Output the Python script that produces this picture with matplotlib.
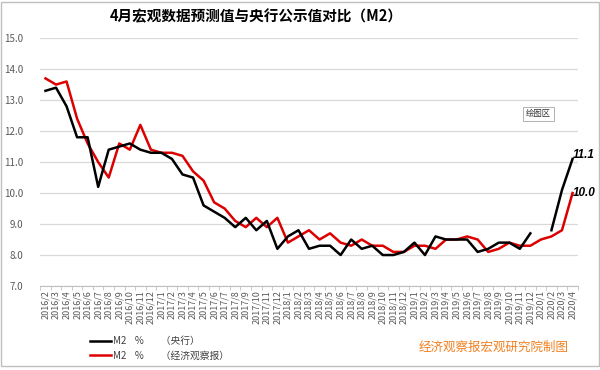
import numpy as np
import matplotlib
matplotlib.use("Agg")
import matplotlib.pyplot as plt
from matplotlib.lines import Line2D
from matplotlib.patches import Rectangle

plt.rcParams['font.family'] = ['Noto Sans CJK SC', 'DejaVu Sans']

months = (["2016/%d" % m for m in range(2, 13)]
          + ["2017/%d" % m for m in range(1, 13)]
          + ["2018/%d" % m for m in range(1, 13)]
          + ["2019/%d" % m for m in range(1, 13)]
          + ["2020/%d" % m for m in range(1, 5)])

# M2 growth, % (central bank published)
m2_pboc = [13.3, 13.4, 12.8, 11.8, 11.8, 10.2, 11.4, 11.5, 11.6, 11.4, 11.3,
           11.3, 11.1, 10.6, 10.5, 9.6, 9.4, 9.2, 8.9, 9.2, 8.8, 9.1, 8.2,
           8.6, 8.8, 8.2, 8.3, 8.3, 8.0, 8.5, 8.2, 8.3, 8.0, 8.0, 8.1,
           8.4, 8.0, 8.6, 8.5, 8.5, 8.5, 8.1, 8.2, 8.4, 8.4, 8.2, 8.7,
           np.nan, 8.8, 10.1, 11.1]

# M2 growth, % (Economic Observer forecast)
m2_eeo = [13.7, 13.5, 13.6, 12.4, 11.6, 11.0, 10.5, 11.6, 11.4, 12.2, 11.4,
          11.3, 11.3, 11.2, 10.7, 10.4, 9.7, 9.5, 9.1, 8.9, 9.2, 8.9, 9.2,
          8.4, 8.6, 8.8, 8.5, 8.7, 8.4, 8.3, 8.5, 8.3, 8.3, 8.1, 8.1,
          8.3, 8.3, 8.2, 8.5, 8.5, 8.6, 8.5, 8.1, 8.2, 8.4, 8.3, 8.3,
          8.5, 8.6, 8.8, 10.0]

labels = ["M2    %        （央行）", "M2    %        （经济观察报）"]
colors = ["black", "#DD0000"]

fig = plt.figure(figsize=(6, 3.7), dpi=100)
ax = fig.add_axes([0.067, 0.227, 0.896, 0.67])

x = np.arange(len(months))
ax.plot(x, m2_pboc, color=colors[0], lw=1.8, zorder=3)
ax.plot(x, m2_eeo, color=colors[1], lw=1.8, zorder=2)

ax.set_xlim(-0.5, len(months) - 0.5)
ax.set_ylim(7, 15)
ax.set_yticks(np.arange(7, 15.1, 1))
ax.set_yticklabels(["%.1f" % v for v in np.arange(7, 15.1, 1)])
ax.grid(axis='y', color='#D9D9D9', lw=0.9)
ax.set_axisbelow(True)
for s in ['top', 'right', 'left']:
    ax.spines[s].set_visible(False)
ax.spines['bottom'].set_color('#BFBFBF')

ax.set_xticks(x)
ax.set_xticklabels(months, rotation=90, fontsize=6.5, color='#595959')
ax.tick_params(axis='x', length=0, pad=3)
ax.set_xticks(np.arange(-0.5, len(months), 1), minor=True)
ax.tick_params(axis='x', which='minor', length=3, color='#BFBFBF')
ax.tick_params(axis='y', length=0, labelsize=7, labelcolor='#595959', pad=12)

ax.text(x[-1] + 0.05, m2_pboc[-1] + 0.12, "11.1", fontsize=8.5, fontweight='bold',
        fontstyle='italic', family='Liberation Sans', va='center', ha='left')
ax.text(x[-1] + 0.05, m2_eeo[-1], "10.0", fontsize=8.5, fontweight='bold',
        fontstyle='italic', family='Liberation Sans', va='center', ha='left')

fig.text(0.427, 0.955, "4月宏观数据预测值与央行公示值对比（M2）", ha='center',
         va='center', fontsize=10.5, fontweight='bold')

fig.text(0.897, 0.692, "绘图区", fontsize=6, ha='center', va='center',
         color='#333333',
         bbox=dict(boxstyle='square,pad=0.35', fc='white', ec='#A6A6A6', lw=0.6))

handles = [Line2D([], [], color=c, lw=1.8) for c in colors]
fig.legend(handles, labels, loc='upper left', bbox_to_anchor=(0.135, 0.115),
           frameon=False, fontsize=7, handlelength=2.2, handletextpad=0.2,
           labelspacing=0.45, labelcolor='#404040')

fig.text(0.822, 0.062, "经济观察报宏观研究院制图", ha='center', va='center',
         fontsize=9, color='#F07F1E')

fig.patches.append(Rectangle((0.002, 0.01), 0.996, 0.985, transform=fig.transFigure,
                             fill=False, ec='#BFBFBF', lw=1))

fig.savefig("out.png", dpi=100)
